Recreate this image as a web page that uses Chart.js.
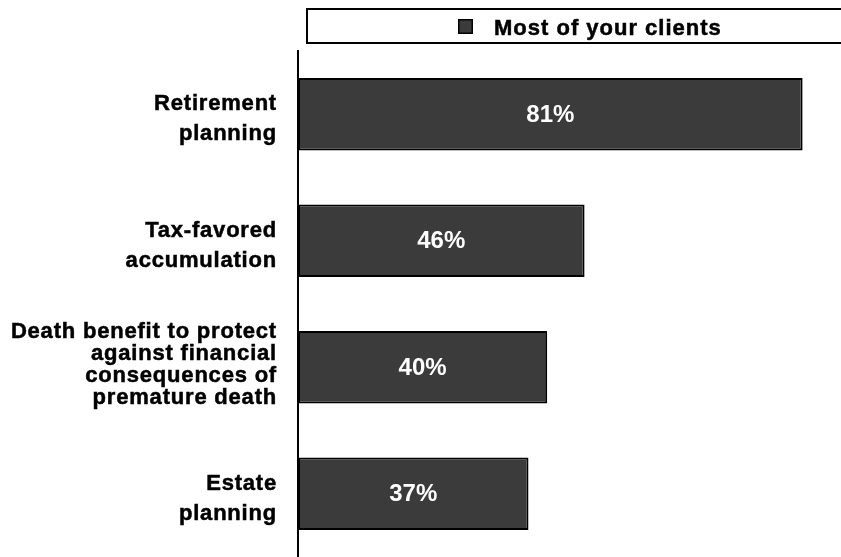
<!DOCTYPE html>
<html>
<head>
<meta charset="utf-8">
<script src="https://cdn.jsdelivr.net/npm/chart.js@4/dist/chart.umd.min.js"></script>
<style>
  html, body { margin: 0; padding: 0; background: #fff; }
  #wrap { width: 841px; height: 557px; position: relative; }
</style>
</head>
<body>
<div id="wrap"><canvas id="chart"></canvas></div>
<script>
const categories = [
  ["Retirement", "planning"],
  ["Tax-favored", "accumulation"],
  ["Death benefit to protect", "against financial", "consequences of", "premature death"],
  ["Estate", "planning"]
];
const seriesLabel = "Most of your clients";
const mostClients = [81, 46, 40, 37];

const FONT = "'Liberation Sans', Arial, Helvetica, sans-serif";
const BAR_FILL = "#3b3b3b";

// heavy black text: fill plus a hairline stroke
function heavyText(ctx, text, x, y) {
  ctx.fillText(text, x, y);
  ctx.strokeText(text, x, y);
}

// category names, right-aligned against the axis line;
// short names get looser leading and sit a little under the bar centre
const categoryLabels = {
  id: "categoryLabels",
  afterDraw(chart) {
    const ctx = chart.ctx;
    const scale = chart.scales.y;
    ctx.save();
    ctx.letterSpacing = "0.8px";
    ctx.fillStyle = "#000";
    ctx.strokeStyle = "#000";
    ctx.lineWidth = 0.5;
    ctx.font = "bold 22px " + FONT;
    ctx.textAlign = "right";
    ctx.textBaseline = "middle";
    chart.data.labels.forEach((lines, i) => {
      const many = lines.length > 2;
      const lh = many ? 22 : 30;
      const y0 = scale.getPixelForValue(i) + (many ? -2 : 5) - (lines.length - 1) * lh / 2;
      lines.forEach((t, k) => heavyText(ctx, t, scale.right - 21, y0 + k * lh));
    });
    ctx.restore();
  }
};

// white percentage inside each bar
const barValues = {
  id: "barValues",
  afterDatasetsDraw(chart) {
    const ctx = chart.ctx;
    const meta = chart.getDatasetMeta(0);
    ctx.save();
    ctx.fillStyle = "#ffffff";
    ctx.font = "bold 24px " + FONT;
    ctx.textAlign = "center";
    ctx.textBaseline = "middle";
    meta.data.forEach((bar, i) => {
      ctx.fillText(mostClients[i] + "%", (bar.x + bar.base) / 2, bar.y + 1);
    });
    ctx.restore();
  }
};

// boxed legend above the plot
const boxedLegend = {
  id: "boxedLegend",
  afterDraw(chart) {
    const ctx = chart.ctx;
    const ds = chart.data.datasets[0];
    const left = chart.chartArea.left + 9;
    ctx.save();
    ctx.strokeStyle = "#000";
    ctx.lineWidth = 2;
    ctx.strokeRect(left, 9, chart.width, 34);

    ctx.fillStyle = ds.backgroundColor;
    ctx.fillRect(458, 19, 15, 15);
    ctx.lineWidth = 1.5;
    ctx.strokeRect(458.75, 19.75, 13.5, 13.5);

    ctx.letterSpacing = "1px";
    ctx.fillStyle = "#000";
    ctx.lineWidth = 0.5;
    ctx.font = "bold 22px " + FONT;
    ctx.textAlign = "left";
    ctx.textBaseline = "alphabetic";
    heavyText(ctx, ds.label, 494, 35);
    ctx.restore();
  }
};

new Chart(document.getElementById("chart"), {
  type: "bar",
  data: {
    labels: categories,
    datasets: [{
      label: seriesLabel,
      data: mostClients,
      backgroundColor: BAR_FILL,
      borderColor: "#000",
      borderWidth: 2,
      borderSkipped: false,
      categoryPercentage: 1,
      barPercentage: 0.575
    }]
  },
  options: {
    indexAxis: "y",
    responsive: true,
    maintainAspectRatio: false,
    animation: false,
    layout: { padding: { top: 51, right: 1, bottom: 0, left: 0 } },
    plugins: {
      legend: { display: false },
      tooltip: { enabled: false },
      title: { display: false }
    },
    scales: {
      x: {
        display: false,
        min: 0,
        max: 87
      },
      y: {
        afterFit(scale) {
          scale.width = 298;
          scale.paddingTop = 0;
          scale.paddingBottom = 0;
        },
        grid: { display: false, drawTicks: false },
        border: { display: true, color: "#000", width: 2 },
        ticks: { display: false }
      }
    }
  },
  plugins: [barValues, categoryLabels, boxedLegend]
});
</script>
</body>
</html>
